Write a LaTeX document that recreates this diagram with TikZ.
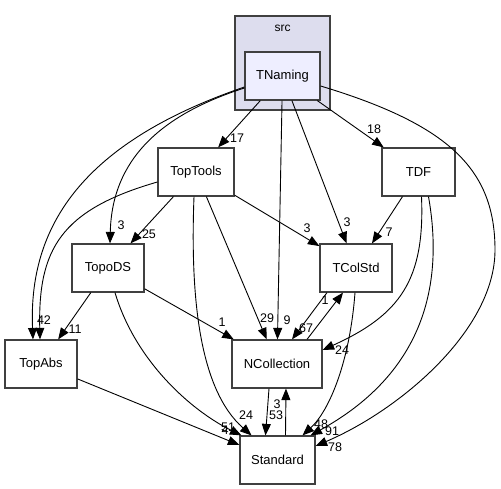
\documentclass[tikz,border=0pt]{standalone}
\usepackage{fontspec}
\setmainfont{Liberation Sans}
\usepackage{tikz}
\usetikzlibrary{arrows.meta,shapes}
\definecolor{clusterfill}{HTML}{DDDDEE}
\definecolor{mainfill}{HTML}{EEEEFF}
\definecolor{boxline}{HTML}{404040}
\tikzstyle{vertex}=[rectangle,draw=boxline,line width=1.2pt,fill=white,minimum height=48pt,inner sep=0pt,font=\fontsize{13}{15}\selectfont]
\tikzstyle{edge} = [draw,line width=0.9pt,-{Triangle[length=11.5pt,width=9pt]}]
\tikzstyle{elabel}=[inner sep=0pt,font=\fontsize{12.5}{14}\selectfont]

\begin{document}
\begin{tikzpicture}[x=1pt,y=-1pt]
    \useasboundingbox (0,0) rectangle (501,489);
    % The src folder with TNaming in it
    \draw[boxline,line width=1.2pt,fill=clusterfill] (235,16) rectangle (330,110);
    \node[font=\fontsize{12}{14}\selectfont] (src) at (282.5,28) {src};
    \node[vertex,fill=mainfill,minimum width=75pt] (TNaming) at (282.5,76) {TNaming};
    % Then the other directories
    \foreach \pos/\name/\boxw in {{(196,172)/TopTools/76pt}, {(418.5,172)/TDF/73pt}, {(108,268)/TopoDS/72pt}, {(356,268)/TColStd/72pt}, {(41,364)/TopAbs/72pt}, {(277,364)/NCollection/90pt}, {(277.5,460)/Standard/75pt}}
        \node[vertex,minimum width=\boxw] (\name) at \pos {\name};
    % Straight dependencies
    \foreach \source/\dest/\lpos/\ltext in {TNaming/TopTools/{(237,138)}/17, TNaming/TDF/{(374,129)}/18, TNaming/NCollection/{(287,320)}/9, TNaming/TColStd/{(347,222)}/3, TopTools/TopoDS/{(149,234)}/25, TopTools/TColStd/{(307,228)}/3, TopTools/NCollection/{(267,318)}/29, TopoDS/TopAbs/{(75,329)}/11, TopoDS/NCollection/{(222,322)}/1, TDF/TColStd/{(389,232)}/7}
        \path[edge] (\source) -- (\dest) node[elabel] at \lpos {\ltext};
    \path[edge] (TopAbs) -- ([yshift=15pt]Standard.west) node[elabel] at (228,427) {51};
    % Both ways between TColStd and NCollection, NCollection and Standard
    \path[edge] ([xshift=-29pt]TColStd.south) -- ([xshift=15pt]NCollection.north) node[elabel] at (306,328) {67};
    \path[edge] ([xshift=30pt]NCollection.north) -- ([xshift=-13pt]TColStd.south) node[elabel] at (325,300) {1};
    \path[edge] ([xshift=-8pt]NCollection.south) -- ([xshift=-12pt]Standard.north) node[elabel] at (276,415) {53};
    \path[edge] ([xshift=8pt]Standard.north) -- ([xshift=9pt]NCollection.south) node[elabel] at (277,404) {3};
    % Curved dependencies
    \path[edge] ([yshift=-12pt]TNaming.west) .. controls (160,115) and (112,160) .. ([xshift=2pt]TopoDS.north) node[elabel] at (121,225) {3};
    \path[edge] ([yshift=-11pt]TNaming.west) .. controls (90,140) and (28,220) .. ([xshift=-8pt]TopAbs.north) node[elabel] at (44,320) {42};
    \path[edge] ([yshift=-10pt]TopTools.west) .. controls (60,210) and (38,250) .. ([xshift=-1pt]TopAbs.north);
    \path[edge] ([yshift=-10pt]TNaming.east) .. controls (450,125) and (495,170) .. (495,250) .. controls (495,330) and (400,410) .. ([yshift=14pt]Standard.east) node[elabel] at (335,447) {78};
    \path[edge] ([xshift=-2pt]TopTools.south) .. controls (190,300) and (200,390) .. ([xshift=-26pt]Standard.north) node[elabel] at (246,415) {24};
    \path[edge] ([xshift=7pt]TopoDS.south) .. controls (135,360) and (190,410) .. ([xshift=-36pt]Standard.north) node[elabel] at (225,430) {4};
    \path[edge] ([xshift=-1pt]TColStd.south) .. controls (350,360) and (330,410) .. ([xshift=25pt]Standard.north) node[elabel] at (321,424) {48};
    \path[edge] ([xshift=3pt]TDF.south) .. controls (425,280) and (400,315) .. ([yshift=14pt]NCollection.east) node[elabel] at (342,350) {24};
    \path[edge] ([xshift=10pt]TDF.south) .. controls (445,290) and (420,375) .. ([xshift=33pt]Standard.north) node[elabel] at (332,431) {91};
\end{tikzpicture}
\end{document}
